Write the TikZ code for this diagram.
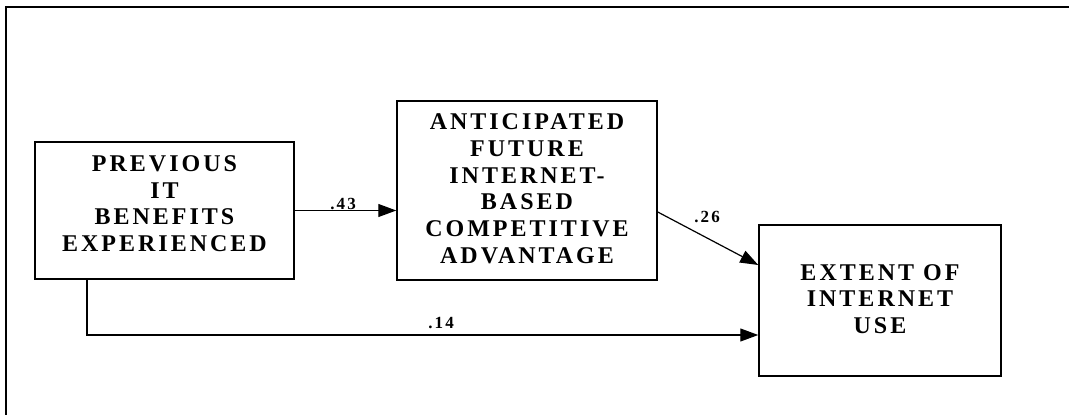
\documentclass[tikz,border=0pt]{standalone}
\usepackage{fontspec}
\setmainfont{Liberation Serif}
\newfontfamily\spacedfont[LetterSpace=12.5]{Liberation Serif}
\usepackage{tikz}
\usetikzlibrary{arrows.meta}
\tikzset{
    construct/.style={rectangle, draw, line width=1.5pt, align=center, inner sep=0pt,
        font=\spacedfont\bfseries\fontsize{24}{26.7}\selectfont},
    path/.style={-{Triangle[length=18pt, width=13pt]}, line width=1.2pt},
    coef/.style={font=\spacedfont\bfseries\fontsize{17}{19}\selectfont, inner sep=0pt},
    frame/.style={line width=2pt}
}
\begin{document}
\begin{tikzpicture}[x=1pt, y=-1pt]
\useasboundingbox (0,0) rectangle (1069,415);
% Outer frame
\draw[frame] (6,415) -- (6,7) -- (1069,7);

% Constructs
\node[construct, minimum width=259pt, minimum height=137pt] (prev) at (164.5,210.5) {PREVIOUS\\IT\\BENEFITS\\EXPERIENCED\rule[-14pt]{0pt}{14pt}};
\node[construct, minimum width=260pt, minimum height=179pt] (ant) at (527,190.5) {ANTICIPATED\\FUTURE\\INTERNET-\\BASED\\COMPETITIVE\\ADVANTAGE\rule[-4pt]{0pt}{4pt}};
\node[construct, minimum width=242pt, minimum height=151pt] (use) at (880,300.5) {EXTENT OF\\INTERNET\\USE\rule[-3pt]{0pt}{3pt}};

% Paths
\draw[path] (prev.east) -- (prev.east -| ant.west);
\draw[path] ([yshift=-21.5pt]ant.east) -- ([yshift=35.5pt]use.west);
\draw[path] ([xshift=-77.5pt]prev.south) |- ([yshift=-34.5pt]use.west);

% Path coefficients
\node[coef] (c43) at (343,204) {.43};
\node[coef] (c26) at (707,217) {.26};
\node[coef] (c14) at (441,323) {.14};
\end{tikzpicture}
\end{document}
